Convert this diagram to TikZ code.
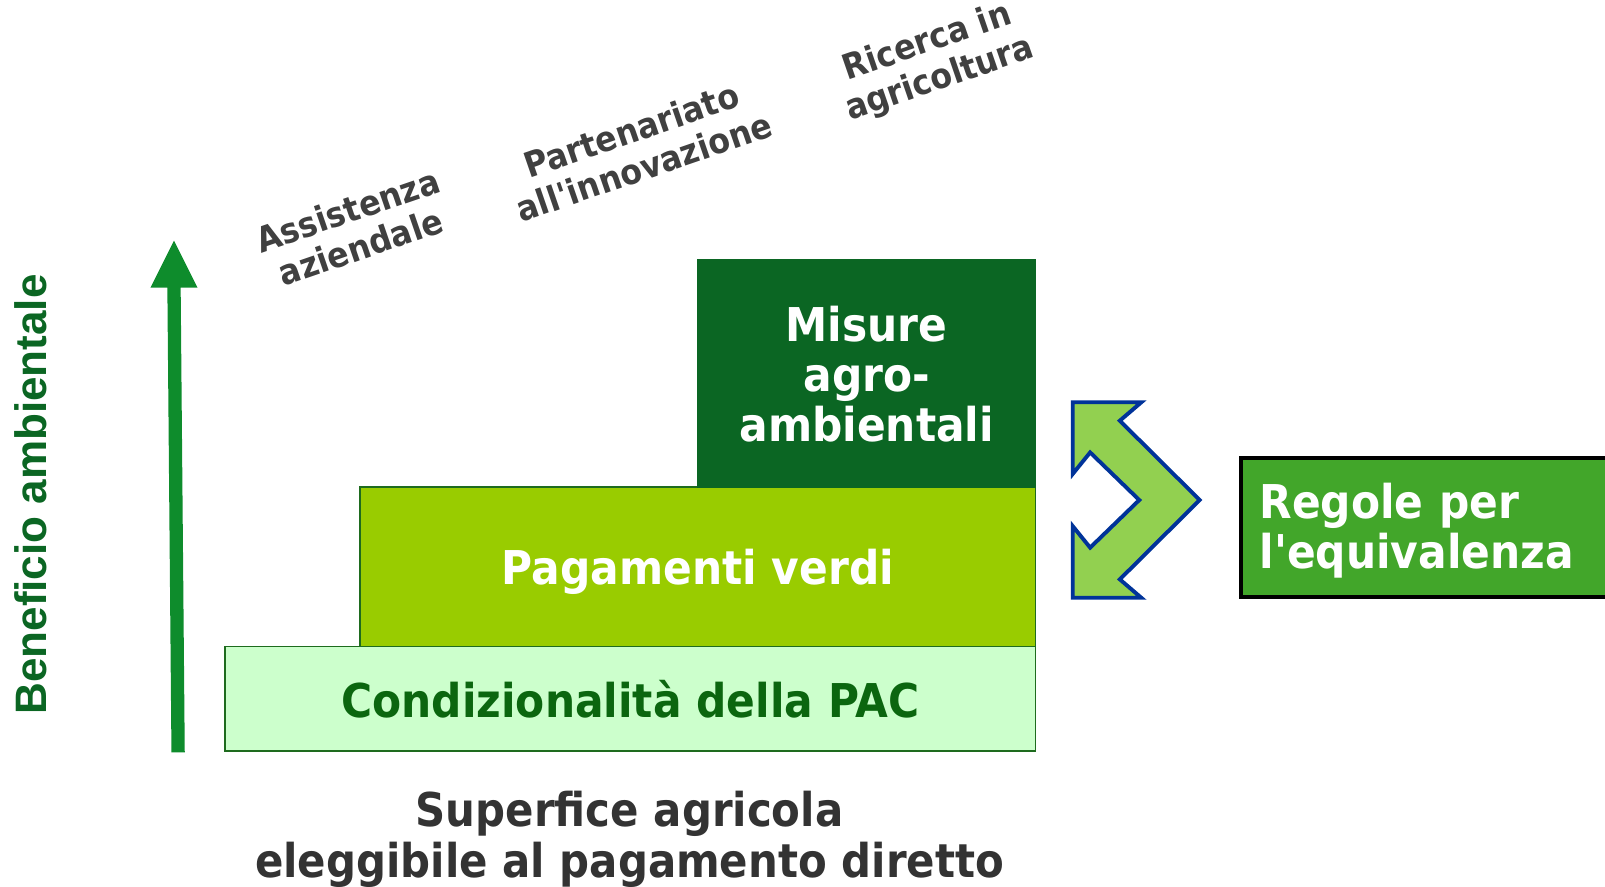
\documentclass[tikz,border=0pt]{standalone}
\usepackage{fontspec}
\usetikzlibrary{calc}
\newfontfamily\vf[FakeStretch=0.91]{DejaVu Sans}
\newfontfamily\vfb[FakeStretch=0.9]{DejaVu Sans}
\newfontfamily\af{Liberation Sans}
\definecolor{misfill}{HTML}{0B6623}
\definecolor{pagfill}{HTML}{99CC00}
\definecolor{condfill}{HTML}{CCFFCC}
\definecolor{condline}{HTML}{1E6B1E}
\definecolor{condtext}{HTML}{0B660F}
\definecolor{regfill}{HTML}{42A62A}
\definecolor{arrgreen}{HTML}{0E8C2C}
\definecolor{chevfill}{HTML}{92D050}
\definecolor{chevline}{HTML}{003399}
\definecolor{lblgray}{HTML}{404040}
\definecolor{bottxt}{HTML}{333333}
\begin{document}
\begin{tikzpicture}[x=1pt,y=-1pt,
  boxfont/.style={font=\vf\bfseries\fontsize{45.5}{49}\selectfont, align=center},
  stepbox/.style={boxfont, inner sep=0pt, anchor=north west},
  lbl/.style={font=\vf\bfseries\fontsize{34}{38}\selectfont, text=lblgray, align=center, rotate=19, inner sep=0pt}]
\useasboundingbox (0,0) rectangle (1568,866.5);
% boxes
\node[stepbox, draw=condline, line width=1.5pt, fill=condfill, text=condtext,
  minimum width=792, minimum height=102] (cond) at (219,631) {Condizionalità della PAC};
\node[stepbox, draw=condline, line width=1.5pt, fill=pagfill, text=white, text depth=0pt,
  minimum width=660, minimum height=156] (pag) at (351,475) {Pagamenti verdi};
\node[stepbox, fill=misfill, text=white,
  minimum width=331, minimum height=224] (mis) at (681,253) {Misure\\agro-\\ambientali};
\node[stepbox, draw=black, line width=4pt, fill=regfill, text=white, align=left, text depth=51pt,
  minimum width=410, minimum height=136, text width=373] (reg) at (1210,445) {Regole per\\l'equivalenza};
% vertical arrow
\coordinate (arrbot) at (174,735);
\coordinate (arrtip) at (170,235);
\fill[arrgreen] ($(arrbot)+(-6.5,0)$) -- (163.5,281) -- (147,281) -- (arrtip) -- (193,281) -- (176.5,281) -- ($(arrbot)+(6.5,0)$) -- cycle;
\node[font=\af\bfseries\fontsize{43}{46}\selectfont, text=misfill, rotate=90, inner sep=0pt] (ben) at (30,483) {Beneficio ambientale};
% chevron double arrow
\draw[chevline, fill=chevfill, line width=3.8pt, line join=miter]
  (1048,393) -- (1115,393) -- (1094,411) -- (1172,488.5) -- (1094,566) -- (1115,584)
  -- (1048,584) -- (1048,514) -- (1065,535) -- (1113,488.5) -- (1065,442) -- (1048,463) -- cycle;
% rotated labels
\node[lbl] (ass) at (346,223) {Assistenza\\aziendale};
\node[lbl] (par) at (623,145) {Partenariato\\all'innovazione};
\node[lbl] (ric) at (912,60) {Ricerca in\\agricoltura};
% bottom label
\node[font=\vfb\bfseries\fontsize{45.5}{49}\selectfont, align=center, text=bottxt, inner sep=0pt] (sup) at (615,820) {Superfice agricola\\eleggibile al pagamento diretto};
\end{tikzpicture}
\end{document}
